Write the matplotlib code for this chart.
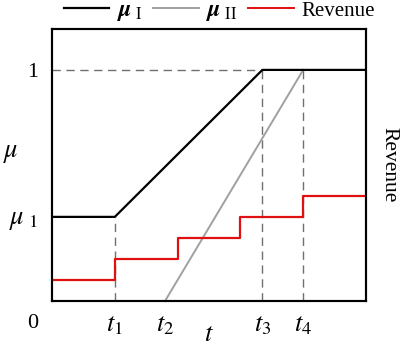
import matplotlib
matplotlib.use("Agg")
import matplotlib.pyplot as plt
from matplotlib.lines import Line2D

plt.rcParams['font.family'] = ['Liberation Serif', 'DejaVu Serif']
plt.rcParams['mathtext.fontset'] = 'stix'

# data
t1, t2, t3, t4 = 2.0, 3.6, 6.7, 8.0
t_end = 10.0
mu1 = 0.364
mu_I_t = [0.0, t1, t3, t_end]
mu_I_v = [mu1, mu1, 1.0, 1.0]
mu_II_t = [t2, t4]
mu_II_v = [0.0, 1.0]
rev_t = [0.0, t1, 4.0, 6.0, t4, t_end]
rev_v = [1, 2, 3, 4, 5, 5]
xtick_pos = [t1, t2, t3, t4]
xtick_labels = [r'$t_1$', r'$t_2$', r'$t_3$', r'$t_4$']
ytick_pos = [mu1, 1.0]
ytick_labels = [r'$\mu_{\ 1}$', '1']

fig = plt.figure(figsize=(4.01, 3.48), dpi=100)
ax = fig.add_axes([52/401, 47/348, 314/401, 272/348])
ymax = 1.177
ax.set_xlim(0, t_end)
ax.set_ylim(0, ymax)

dash_col = '#707070'
ax.plot([0, t3], [1, 1], color=dash_col, lw=1.0, ls=(0, (6, 4)))
ax.plot([t1, t1], [0, mu1], color=dash_col, lw=1.0, ls=(0, (6, 4)))
ax.plot([t3, t3], [0, 1], color=dash_col, lw=1.0, ls=(0, (6, 4)))
ax.plot([t4, t4], [0, 1], color=dash_col, lw=1.0, ls=(0, (6, 4)))

ax.plot(mu_II_t, mu_II_v, color='#a0a0a0', lw=1.4, clip_on=False)
ax.plot(mu_I_t, mu_I_v, color='black', lw=1.6)

ax2 = ax.twinx()
ax2.set_ylim(0, ymax / 0.091)
ax2.step(rev_t, rev_v, where='post', color='#e01010', lw=1.6)
ax2.set_yticks([])
ax2.set_ylabel('Revenue', rotation=270, fontsize=15.5, va='center', ha='center')
ax2.yaxis.set_label_coords(1.072, 0.5)

for a in (ax, ax2):
    for s in a.spines.values():
        s.set_linewidth(1.5)

ax.set_xticks(xtick_pos)
ax.set_xticklabels(xtick_labels, fontsize=19)
ax.set_yticks(ytick_pos)
ax.set_yticklabels(ytick_labels, fontsize=16)
ax.get_yticklabels()[0].set_fontsize(19)
ax.tick_params(axis='both', length=0)
ax.tick_params(axis='x', pad=10)
ax.tick_params(axis='y', pad=10)
ax.annotate('0', xy=(0, 0), xycoords='axes fraction', xytext=(-10, -16),
            textcoords='offset points', ha='right', va='center', fontsize=16)
ax.set_xlabel(r'$t$', fontsize=19)
ax.xaxis.set_label_coords(0.5, -0.085)
ax.set_ylabel(r'$\mu$', fontsize=19, rotation=0)
ax.yaxis.set_label_coords(-0.13, 0.5)

handles = [Line2D([], [], color='black', lw=1.6),
           Line2D([], [], color='#a0a0a0', lw=1.4),
           Line2D([], [], color='#e01010', lw=1.4)]
labels = [r'$\mathbfit{\mu}_{\ \mathrm{I}}$', r'$\mathbfit{\mu}_{\ \mathrm{II}}$', 'Revenue']
leg = fig.legend(handles, labels, loc='upper center', bbox_to_anchor=(219/401, 1.055),
                 ncol=3, frameon=False, fontsize=15, handlelength=2.2,
                 columnspacing=0.5, handletextpad=0.35)
for txt in leg.get_texts()[:2]:
    txt.set_fontsize(17)

fig.savefig('out.png', dpi=100)
